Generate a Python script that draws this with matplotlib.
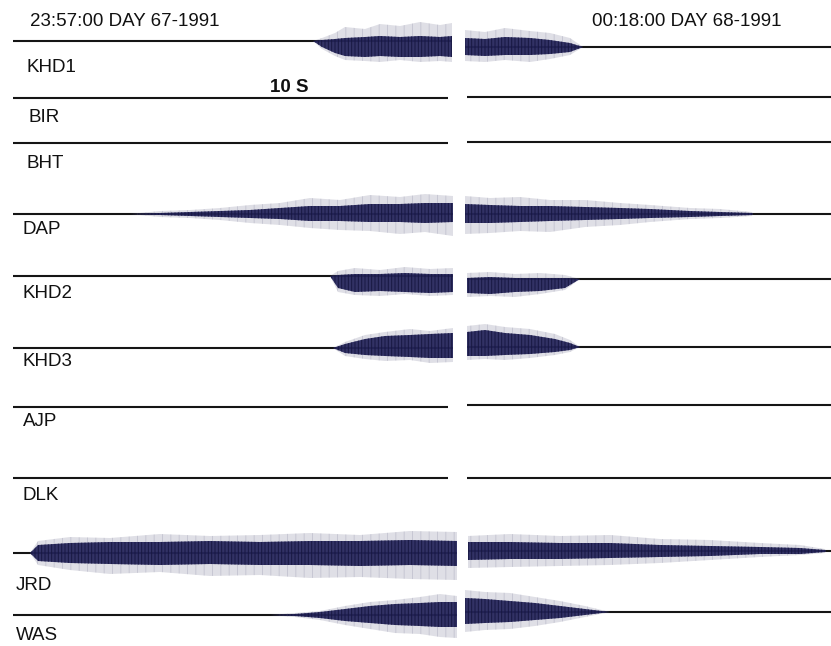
import matplotlib
matplotlib.use('Agg')
import matplotlib.pyplot as plt
import numpy as np

plt.rcParams['font.family'] = ['Liberation Sans', 'DejaVu Sans']
plt.rcParams['hatch.linewidth'] = 0.7

# station names and header texts
stations = ['KHD1', 'BIR', 'BHT', 'DAP', 'KHD2', 'KHD3', 'AJP', 'DLK', 'JRD', 'WAS']
start_label = '23:57:00 DAY 67-1991'
end_label = '00:18:00 DAY 68-1991'
scale_label = '10 S'

# bursts: (time, spread above, core above, core below, spread below)
# time is in the chart's own horizontal units, amplitudes in the same units
khd1_left = [(313, 0, 0, 0, 0), (322, 3, 1, 6, 8), (335, 8, 2, 12, 15), (345, 14, 3, 15, 19), (365, 12, 4, 16, 20),
             (380, 17, 5, 15, 21), (400, 15, 4, 16, 19), (420, 19, 5, 16, 21), (440, 16, 4, 15, 20), (452, 18, 5, 16, 21)]
khd1_right = [(465, 17, 9, 8, 14), (485, 15, 8, 9, 15), (505, 19, 10, 8, 13), (530, 16, 9, 8, 15),
              (550, 14, 7, 7, 12), (570, 9, 4, 5, 8), (583, 0, 0, 0, 0)]
dap_left = [(130, 0, 0, 0, 0), (160, 3, 1, 1, 3), (190, 4, 2, 2, 4), (220, 6, 3, 3, 6), (250, 9, 4, 4, 9),
            (280, 11, 6, 5, 11), (310, 16, 8, 7, 14), (340, 14, 8, 7, 16), (370, 19, 10, 8, 17),
            (400, 17, 10, 8, 20), (425, 20, 11, 9, 18), (453, 18, 11, 8, 22)]
dap_right = [(465, 18, 10, 9, 20), (490, 16, 9, 9, 19), (520, 17, 8, 8, 17), (550, 14, 8, 7, 18),
             (585, 14, 7, 6, 13), (620, 11, 6, 5, 11), (650, 9, 5, 4, 8), (690, 6, 3, 3, 5),
             (720, 5, 2, 2, 4), (752, 2, 1, 1, 2), (753, 0, 0, 0, 0)]
khd2_left = [(330, 0, 0, 0, 0), (338, 5, 1, 12, 16), (355, 8, 2, 16, 19), (380, 6, 2, 15, 20),
             (405, 9, 3, 16, 18), (430, 7, 2, 17, 20), (453, 8, 2, 16, 19)]
khd2_right = [(467, 6, 1, 14, 18), (490, 7, 2, 15, 17), (515, 5, 1, 13, 18), (540, 6, 1, 12, 15),
              (565, 4, 1, 9, 11), (580, 0, 0, 0, 0)]
khd3_left = [(333, 0, 0, 0, 0), (345, 6, 4, 5, 8), (365, 13, 9, 7, 11), (385, 16, 12, 8, 13),
             (410, 19, 13, 9, 12), (430, 17, 14, 10, 15), (453, 20, 15, 10, 14)]
khd3_right = [(467, 21, 15, 9, 13), (485, 23, 17, 9, 12), (505, 20, 14, 8, 13), (530, 18, 12, 7, 11),
              (555, 13, 8, 5, 8), (570, 7, 4, 3, 5), (580, 0, 0, 0, 0)]
jrd_left = [(30, 0, 0, 0, 0), (38, 12, 8, 8, 12), (70, 16, 10, 10, 17), (110, 15, 11, 11, 21),
            (160, 19, 11, 12, 19), (210, 17, 12, 11, 23), (260, 18, 11, 12, 22), (310, 20, 12, 12, 25),
            (360, 18, 12, 13, 24), (410, 22, 13, 12, 26), (457, 21, 12, 13, 27)]
jrd_right = [(468, 15, 9, 9, 17), (510, 17, 9, 8, 16), (560, 15, 8, 8, 15), (610, 16, 8, 7, 14),
             (660, 12, 6, 6, 12), (710, 11, 5, 5, 9), (760, 8, 4, 3, 6), (800, 6, 3, 3, 4),
             (825, 2, 1, 1, 2), (826, 0, 0, 0, 0)]
was_left = [(270, 0, 0, 0, 0), (295, 2, 1, 1, 2), (320, 4, 3, 3, 5), (345, 9, 6, 6, 10),
            (370, 13, 9, 8, 14), (395, 15, 11, 10, 18), (420, 18, 12, 11, 19), (440, 21, 13, 12, 22),
            (457, 19, 13, 12, 23)]
was_right = [(465, 22, 14, 12, 20), (485, 20, 13, 11, 18), (510, 19, 11, 10, 17), (535, 15, 9, 8, 14),
             (560, 11, 6, 6, 10), (585, 6, 3, 3, 5), (610, 0, 0, 0, 0)]

left_bursts = {'KHD1': khd1_left, 'DAP': dap_left, 'KHD2': khd2_left, 'KHD3': khd3_left, 'JRD': jrd_left, 'WAS': was_left}
right_bursts = {'KHD1': khd1_right, 'DAP': dap_right, 'KHD2': khd2_right, 'KHD3': khd3_right, 'JRD': jrd_right, 'WAS': was_right}

# layout (figure pixels)
base_left = [41, 98, 143, 214, 276, 348, 407, 478, 553, 615]
base_right = [47, 97, 142, 214, 279, 347, 405, 478, 551, 612]
label_y = [68, 117, 163, 230, 293, 362, 422, 496, 585, 635]
label_x = [26, 28, 27, 22, 23, 22, 23, 23, 16, 16]
left_span = (13, 448)
right_span = (467, 831)

fig = plt.figure(figsize=(8.31, 6.46), dpi=100)
ax = fig.add_axes([0, 0, 1, 1])
ax.set_xlim(0, 831)
ax.set_ylim(646, 0)
ax.axis('off')

line_col = '#151515'
core_col = '#23235a'
spread_col = '#70708e'


def draw_burst(burst, base):
    b = np.array(burst, dtype=float)
    t = b[:, 0]
    ax.fill_between(t, base - b[:, 1], base + b[:, 4], facecolor=spread_col, alpha=0.22,
                    hatch='||', edgecolor=spread_col, linewidth=0, zorder=3)
    ax.fill_between(t, base - b[:, 2], base + b[:, 3], facecolor=core_col, alpha=0.92,
                    hatch='|||||', edgecolor='#16163f', linewidth=0, zorder=4)


for i, name in enumerate(stations):
    y0 = base_left[i]
    y1 = base_right[i]
    x_end_l = left_span[1]
    if name in left_bursts:
        x_end_l = left_bursts[name][-1][0]
    ax.plot([left_span[0], x_end_l], [y0, y0], color=line_col, lw=1.5, solid_capstyle='butt', zorder=2)
    x_start_r = right_span[0]
    if name in right_bursts:
        x_start_r = right_bursts[name][0][0]
    ax.plot([x_start_r, right_span[1]], [y1, y1], color=line_col, lw=1.5, solid_capstyle='butt', zorder=2)
    if name in left_bursts:
        draw_burst(left_bursts[name], y0)
    if name in right_bursts:
        draw_burst(right_bursts[name], y1)
    ax.text(label_x[i], label_y[i], name, fontsize=13.5, va='center', ha='left', color='#111111')

ax.text(30, 21, start_label, fontsize=13.5, va='center', ha='left', color='#111111')
ax.text(592, 21, end_label, fontsize=13.5, va='center', ha='left', color='#111111')
ax.text(270, 87, scale_label, fontsize=13.5, va='center', ha='left', color='#111111', fontweight='bold')

fig.savefig('out.png', dpi=100)
